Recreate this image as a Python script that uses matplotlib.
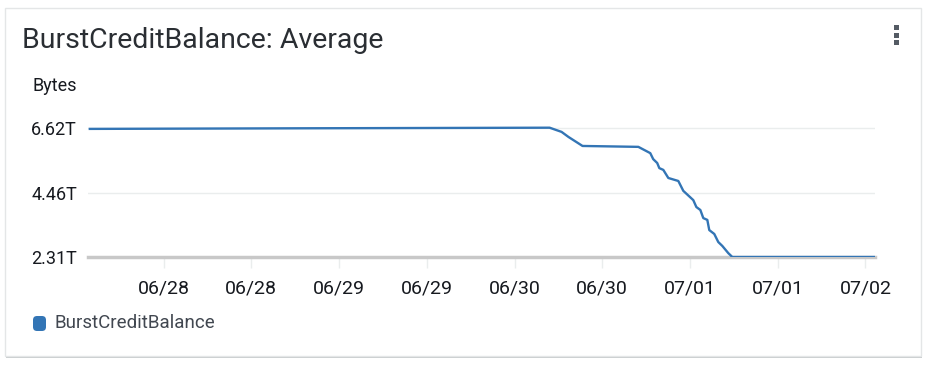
import matplotlib
matplotlib.use("Agg")
import matplotlib.pyplot as plt
import matplotlib.dates as mdates
from matplotlib.patches import FancyBboxPatch, Rectangle
from datetime import datetime

# BurstCreditBalance average, in TB
times = [
    "2023-06-27 13:55", "2023-06-28 18:30", "2023-06-30 04:48", "2023-06-30 06:26",
    "2023-06-30 07:23", "2023-06-30 09:18", "2023-06-30 16:56", "2023-06-30 18:34",
    "2023-06-30 18:58", "2023-06-30 19:31", "2023-06-30 19:48", "2023-06-30 20:21",
    "2023-06-30 21:02", "2023-06-30 22:24", "2023-06-30 23:05", "2023-07-01 00:27",
    "2023-07-01 00:52", "2023-07-01 01:25", "2023-07-01 01:49", "2023-07-01 02:22",
    "2023-07-01 02:38", "2023-07-01 03:19", "2023-07-01 03:52", "2023-07-01 04:25",
    "2023-07-01 05:14", "2023-07-01 05:47", "2023-07-02 01:15",
]
balance_tb = [
    6.59, 6.61, 6.63, 6.49,
    6.32, 6.02, 5.99, 5.78,
    5.58, 5.45, 5.28, 5.22,
    4.95, 4.85, 4.52, 4.21,
    3.98, 3.88, 3.61, 3.55,
    3.21, 3.08, 2.81, 2.68,
    2.44, 2.31, 2.31,
]
ytick_vals = [2.31, 4.46, 6.62]
ytick_labels = ["2.31T", "4.46T", "6.62T"]
xtick_times = ["2023-06-28 00:00", "2023-06-28 12:00", "2023-06-29 00:00",
               "2023-06-29 12:00", "2023-06-30 00:00", "2023-06-30 12:00",
               "2023-07-01 00:00", "2023-07-01 12:00", "2023-07-02 00:00"]

fmt = "%Y-%m-%d %H:%M"
x = [datetime.strptime(t, fmt) for t in times]
xt = [datetime.strptime(t, fmt) for t in xtick_times]

blue = "#3375b5"
text_c = "#16191f"
W, H = 934, 366
plt.rcParams["font.family"] = ["Roboto", "DejaVu Sans"]
fig = plt.figure(figsize=(W / 100, H / 100), dpi=100)
px = fig.dpi_scale_trans  # 1 unit = 100 px


def box(x0, y0, w, h, **kw):
    # rectangle given in pixel coords from top-left
    return Rectangle((x0 / 100, (H - y0 - h) / 100), w / 100, h / 100,
                     transform=px, **kw)


# card background with border and bottom shadow
fig.patches.append(box(6, 354, 916, 4, facecolor="#c8ccce", edgecolor="none", zorder=0))
fig.patches.append(box(5, 8, 916, 348, facecolor="white", edgecolor="#e4e6e7",
                       linewidth=1, zorder=1))

# title and menu dots
fig.text(22 / W, 1 - 40 / H, "BurstCreditBalance: Average", fontsize=20.5,
         color="#2a2e33", va="center", ha="left")
for yy in (25, 32.5, 40):
    fig.patches.append(box(893.5, yy, 5, 5, facecolor="#545b64", edgecolor="none", zorder=3))
fig.text(33 / W, 1 - 86 / H, "Bytes", fontsize=13, color=text_c,
         va="center", ha="left")

left, right, bottom, top = 88, 875, 257, 110
ax = fig.add_axes([left / W, 1 - bottom / H, (right - left) / W, (bottom - top) / H])
ax.set_zorder(5)
ax.set_facecolor("none")
ax.plot(x, balance_tb, color=blue, linewidth=1.7, zorder=3)

ax.set_ylim(2.31, 6.62 + 18 * (6.62 - 2.31) / 129)
ax.set_xlim(datetime(2023, 6, 27, 13, 40), datetime(2023, 7, 2, 1, 18))
ax.set_yticks(ytick_vals)
ax.set_yticklabels(ytick_labels)
ax.set_xticks(xt)
ax.xaxis.set_major_formatter(mdates.DateFormatter("%m/%d"))

for s in ["top", "right", "left"]:
    ax.spines[s].set_visible(False)
ax.spines["bottom"].set_color("#c8c8c8")
ax.spines["bottom"].set_linewidth(2.5)
ax.grid(axis="y", color="#eaeded", linewidth=1)
ax.tick_params(axis="y", length=0, pad=8, labelsize=13, labelcolor=text_c)
ax.tick_params(axis="x", length=8, color="#eaeded", width=1, pad=8,
               labelsize=14, labelcolor=text_c)

# legend
fig.patches.append(FancyBboxPatch((33 / 100, (H - 331) / 100), 13 / 100, 15 / 100,
                                  boxstyle="round,pad=0,rounding_size=0.04",
                                  transform=px, facecolor=blue,
                                  edgecolor="none", zorder=3))
fig.text(55 / W, 1 - 323 / H, "BurstCreditBalance", fontsize=13.5,
         color="#414750", va="center", ha="left")

fig.savefig("out.png", dpi=100)
